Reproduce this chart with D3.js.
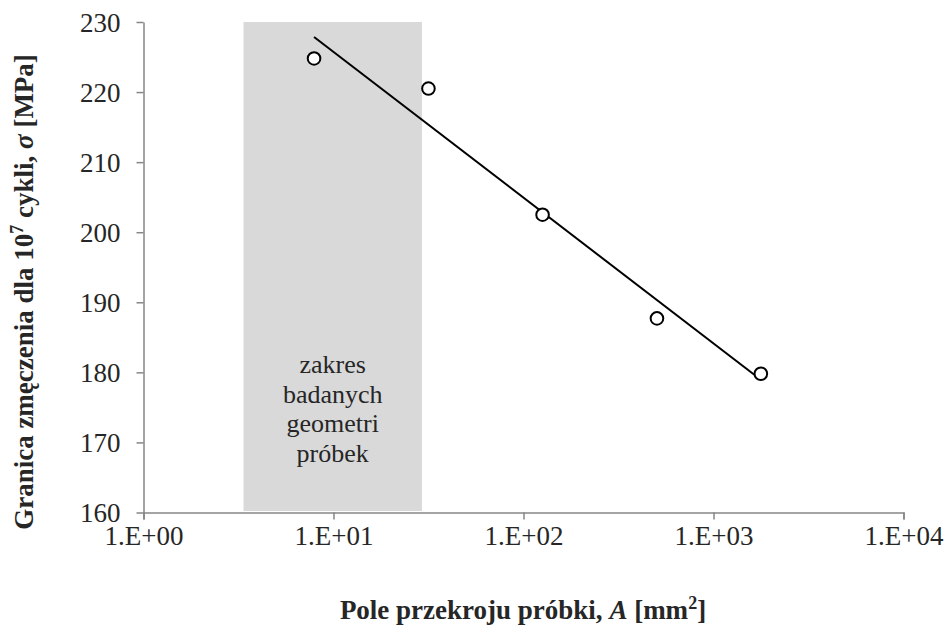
<!DOCTYPE html>
<html>
<head>
<meta charset="utf-8">
<script src="https://cdn.jsdelivr.net/npm/d3@7"></script>
<style>
  body { margin: 0; background: #fff; }
</style>
</head>
<body>
<div id="chart"></div>
<script>
// values
const area = [7.9, 31.6, 126, 504, 1775];          // A [mm2]
const sigma = [224.8, 220.5, 202.5, 187.7, 179.8]; // fatigue limit [MPa]
const majorTicks = [1, 10, 100, 1000, 10000];
const yTicks = [160, 170, 180, 190, 200, 210, 220, 230];
const rangeBox = [3.36, 29.2]; // zakres badanych geometrii
const boxLines = ["zakres", "badanych", "geometri", "próbek"];

const width = 944, height = 626;
const serif = "'Liberation Serif', 'Times New Roman', Times, serif";
const axisColor = "#868686";
const textColor = "#262626";

const svg = d3.select("#chart").append("svg")
  .attr("width", width)
  .attr("height", height)
  .attr("font-family", serif);

const x = d3.scaleLog().domain([1, 10000]).range([143.5, 903.5]);
const y = d3.scaleLinear().domain([160, 230]).range([512.5, 22]);

// shaded range
svg.append("rect")
  .attr("x", x(rangeBox[0]))
  .attr("y", y(230))
  .attr("width", x(rangeBox[1]) - x(rangeBox[0]))
  .attr("height", y(160) - y(230) - 1.5)
  .attr("fill", "#d9d9d9");

svg.append("text")
  .attr("text-anchor", "middle")
  .attr("font-size", 26)
  .attr("fill", textColor)
  .selectAll("tspan")
  .data(boxLines)
  .join("tspan")
  .attr("x", (x(rangeBox[0]) + x(rangeBox[1])) / 2)
  .attr("y", (d, i) => 373 + i * 29.5)
  .text((d) => d);

// minor ticks
let minor = [];
for (let p = 0; p < 4; p++) {
  for (let k = 2; k < 10; k++) minor.push(k * Math.pow(10, p));
}

const fmt = (d) => "1.E+" + String(Math.round(Math.log10(d))).padStart(2, "0");

let gx = svg.append("g").attr("transform", `translate(0,${y(160)})`);
gx.call(d3.axisBottom(x).tickValues(minor).tickSize(5).tickFormat(""));
gx.call(d3.axisBottom(x).tickValues(majorTicks).tickSize(7).tickPadding(6).tickFormat(fmt));
gx.attr("font-family", serif);
gx.selectAll("path, line").attr("stroke", axisColor).attr("stroke-width", 1.5);
gx.selectAll("text")
  .attr("font-size", 27)
  .attr("fill", textColor);

let gy = svg.append("g").attr("transform", `translate(${x(1)},0)`);
gy.call(d3.axisLeft(y).tickValues(yTicks).tickSize(7).tickPadding(16).tickSizeOuter(0));
gy.attr("font-family", serif);
gy.selectAll("path, line").attr("stroke", axisColor).attr("stroke-width", 1.5);
gy.selectAll("text")
  .attr("font-size", 27)
  .attr("fill", textColor)
  .attr("dy", "0.34em");

// logarithmic trendline (least squares on log10 A)
const lx = area.map((d) => Math.log10(d));
const mx = d3.mean(lx), my = d3.mean(sigma);
const b = d3.sum(lx, (d, i) => (d - mx) * (sigma[i] - my)) / d3.sum(lx, (d) => (d - mx) ** 2);
const a = my - b * mx;
const trend = [area[0], area[area.length - 1]].map((d) => [d, a + b * Math.log10(d)]);

svg.append("path")
  .datum(trend)
  .attr("fill", "none")
  .attr("stroke", "black")
  .attr("stroke-width", 2)
  .attr("d", d3.line().x((d) => x(d[0])).y((d) => y(d[1])));

svg.append("g")
  .selectAll("circle")
  .data(area)
  .join("circle")
  .attr("cx", (d) => x(d))
  .attr("cy", (d, i) => y(sigma[i]))
  .attr("r", 6.3)
  .attr("fill", "white")
  .attr("stroke", "black")
  .attr("stroke-width", 2);

// axis titles
let xt = svg.append("text")
  .attr("x", 523)
  .attr("y", 619)
  .attr("text-anchor", "middle")
  .attr("font-size", 27)
  .attr("font-weight", "bold")
  .attr("fill", textColor);
xt.append("tspan").text("Pole przekroju próbki, ");
xt.append("tspan").attr("font-style", "italic").text("A");
xt.append("tspan").text(" [mm");
xt.append("tspan").attr("font-size", 18).attr("dy", -10).text("2");
xt.append("tspan").attr("dy", 10).text("]");

let yt = svg.append("text")
  .attr("transform", "translate(33,292) rotate(-90)")
  .attr("text-anchor", "middle")
  .attr("font-size", 27)
  .attr("font-weight", "bold")
  .attr("fill", textColor);
yt.append("tspan").text("Granica zmęczenia dla 10");
yt.append("tspan").attr("font-size", 18).attr("dy", -10).text("7");
yt.append("tspan").attr("dy", 10).text(" cykli, ");
yt.append("tspan").attr("font-style", "italic").text("σ");
yt.append("tspan").text(" [MPa]");
</script>
</body>
</html>
